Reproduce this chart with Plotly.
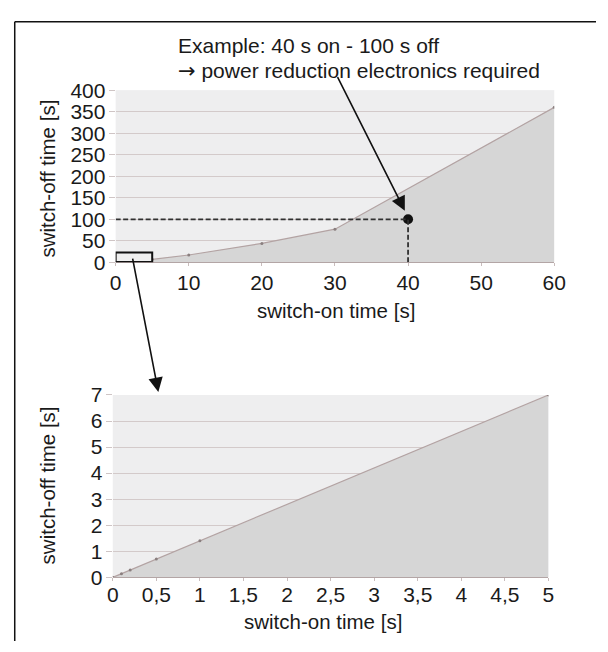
import plotly.graph_objects as go

# ---------------- data ----------------
top_on = [0, 5, 10, 20, 30, 60]          # switch-on time [s]
top_off = [0, 7, 17, 44, 77, 360]        # switch-off time [s]
bot_on = [0, 0.1, 0.2, 0.5, 1, 5]
bot_off = [0, 0.14, 0.28, 0.7, 1.4, 7]
example_on = [40]
example_off = [100]
zoom_box_on = [0, 5]
zoom_box_off = [1, 23]
top_xticks = [0, 10, 20, 30, 40, 50, 60]
top_yticks = [0, 50, 100, 150, 200, 250, 300, 350, 400]
bot_xticks = [0, 0.5, 1, 1.5, 2, 2.5, 3, 3.5, 4, 4.5, 5]
bot_yticks = [0, 1, 2, 3, 4, 5, 6, 7]
x_title = "switch-on time [s]"
y_title = "switch-off time [s]"
note_1 = "Example: 40 s on - 100 s off"
note_2_arrow = "→"
note_2 = " power reduction electronics required"

# ---------------- styling ----------------
W, H = 608, 652
FONT = "Liberation Sans, Arial, Helvetica, sans-serif"
TXT = "#1a1a1a"
BG = "#eeeeef"
GRID = "#d3caca"
FILL = "#d6d6d6"
LINE = "#b3a3a3"
TICK_SIZE = 21
TITLE_SIZE = 20.5
NOTE_SIZE = 21


def px(x):
    return x / W


def py(y):
    return 1 - y / H


fig = go.Figure()

fig.add_trace(go.Scatter(
    x=top_on, y=top_off, mode="lines+markers", fill="tozeroy",
    fillcolor=FILL, line=dict(color=LINE, width=1.2),
    marker=dict(size=3, color="#8a7f7f"), xaxis="x", yaxis="y",
    hoverinfo="skip", showlegend=False))

fig.add_trace(go.Scatter(
    x=bot_on, y=bot_off, mode="lines+markers", fill="tozeroy",
    fillcolor=FILL, line=dict(color=LINE, width=1.2),
    marker=dict(size=3, color="#8a7f7f"), xaxis="x2", yaxis="y2",
    hoverinfo="skip", showlegend=False))

# dashed guide lines to the example point
fig.add_shape(type="line", xref="x", yref="y", x0=0, x1=example_on[0],
              y0=example_off[0], y1=example_off[0],
              line=dict(color="#303030", width=1.8, dash="5px,2.5px"))
fig.add_shape(type="line", xref="x", yref="y", x0=example_on[0], x1=example_on[0],
              y0=0, y1=example_off[0],
              line=dict(color="#303030", width=1.8, dash="5px,2.5px"))

fig.add_trace(go.Scatter(
    x=example_on, y=example_off, mode="markers",
    marker=dict(size=10, color="#111111"), xaxis="x", yaxis="y",
    hoverinfo="skip", showlegend=False))

# zoom box on top chart
fig.add_shape(type="rect", xref="x", yref="y",
              x0=zoom_box_on[0], x1=zoom_box_on[1],
              y0=zoom_box_off[0], y1=zoom_box_off[1],
              fillcolor="#efefef", line=dict(color="#111111", width=2))

# outer frame (top and left edges)
fig.add_shape(type="line", xref="paper", yref="paper",
              x0=px(9), x1=1.0, y0=py(10), y1=py(10),
              line=dict(color="#111111", width=1.5))
fig.add_shape(type="line", xref="paper", yref="paper",
              x0=px(9), x1=px(9), y0=0, y1=py(10),
              line=dict(color="#111111", width=1.5))

tickfont = dict(family=FONT, size=TICK_SIZE, color=TXT)

fig.update_layout(
    width=W, height=H,
    margin=dict(l=0, r=0, t=0, b=0),
    paper_bgcolor="white", plot_bgcolor=BG,
    separators=", ",
    font=dict(family=FONT, color=TXT),
    xaxis=dict(domain=[px(113), px(565)], range=[0, 60], anchor="y",
               tickvals=top_xticks, ticks="outside", ticklen=3,
               tickcolor="#c8bcbc", showline=True, linecolor="#b3a5a5",
               ticklabelstandoff=-2, showgrid=False, zeroline=False,
               tickfont=tickfont, fixedrange=True),
    yaxis=dict(domain=[py(259.5), py(81)], range=[0, 400], anchor="x",
               tickvals=top_yticks, ticks="outside", ticklen=6,
               tickcolor="#cfc5c5", ticklabelstandoff=-1, showgrid=True,
               gridcolor=GRID, gridwidth=1, zeroline=False,
               tickfont=tickfont, fixedrange=True),
    xaxis2=dict(domain=[px(110), px(559)], range=[0, 5], anchor="y2",
                tickvals=bot_xticks, ticks="outside", ticklen=3,
                tickcolor="#c8bcbc", showline=True, linecolor="#b3a5a5",
                ticklabelstandoff=-5, showgrid=False, zeroline=False,
                tickfont=tickfont, fixedrange=True),
    yaxis2=dict(domain=[py(586), py(397)], range=[0, 7], anchor="x2",
                tickvals=bot_yticks, ticks="outside", ticklen=6,
                tickcolor="#cfc5c5", ticklabelstandoff=-1, showgrid=True,
                gridcolor=GRID, gridwidth=1, zeroline=False,
                tickfont=tickfont, fixedrange=True),
)

ann = []
# axis titles
ann.append(dict(text=x_title, xref="paper", yref="paper", x=px(340), y=py(309),
                xanchor="center", yanchor="middle", showarrow=False,
                font=dict(family=FONT, size=TITLE_SIZE, color=TXT)))
ann.append(dict(text=y_title, xref="paper", yref="paper", x=px(43), y=py(173),
                xanchor="center", yanchor="middle", showarrow=False, textangle=-90,
                font=dict(family=FONT, size=TITLE_SIZE, color=TXT)))
ann.append(dict(text=x_title, xref="paper", yref="paper", x=px(327), y=py(632),
                xanchor="center", yanchor="middle", showarrow=False,
                font=dict(family=FONT, size=TITLE_SIZE, color=TXT)))
ann.append(dict(text=y_title, xref="paper", yref="paper", x=px(43), y=py(491),
                xanchor="center", yanchor="middle", showarrow=False, textangle=-90,
                font=dict(family=FONT, size=TITLE_SIZE, color=TXT)))
# example note
ann.append(dict(text=note_1, xref="paper", yref="paper", x=px(175), y=py(35),
                xanchor="left", yanchor="middle", showarrow=False,
                font=dict(family=FONT, size=NOTE_SIZE, color=TXT)))
ann.append(dict(text='<span style="font-family:DejaVu Sans">' + note_2_arrow
                + '</span>' + note_2,
                xref="paper", yref="paper", x=px(175), y=py(61),
                xanchor="left", yanchor="middle", showarrow=False,
                font=dict(family=FONT, size=NOTE_SIZE, color=TXT)))
# arrows
ann.append(dict(text="", xref="paper", yref="paper", x=px(411), y=py(206),
                ax=343 - 411, ay=71 - 206, axref="pixel", ayref="pixel",
                showarrow=True, arrowhead=2, arrowsize=1.8, arrowwidth=1.6,
                arrowcolor="#111111", standoff=0))
ann.append(dict(text="", xref="paper", yref="paper", x=px(157), y=py(394),
                ax=131 - 157, ay=259 - 394, axref="pixel", ayref="pixel",
                showarrow=True, arrowhead=2, arrowsize=1.8, arrowwidth=1.6,
                arrowcolor="#111111", standoff=0))
fig.update_layout(annotations=ann)

fig.write_html("out.html")
